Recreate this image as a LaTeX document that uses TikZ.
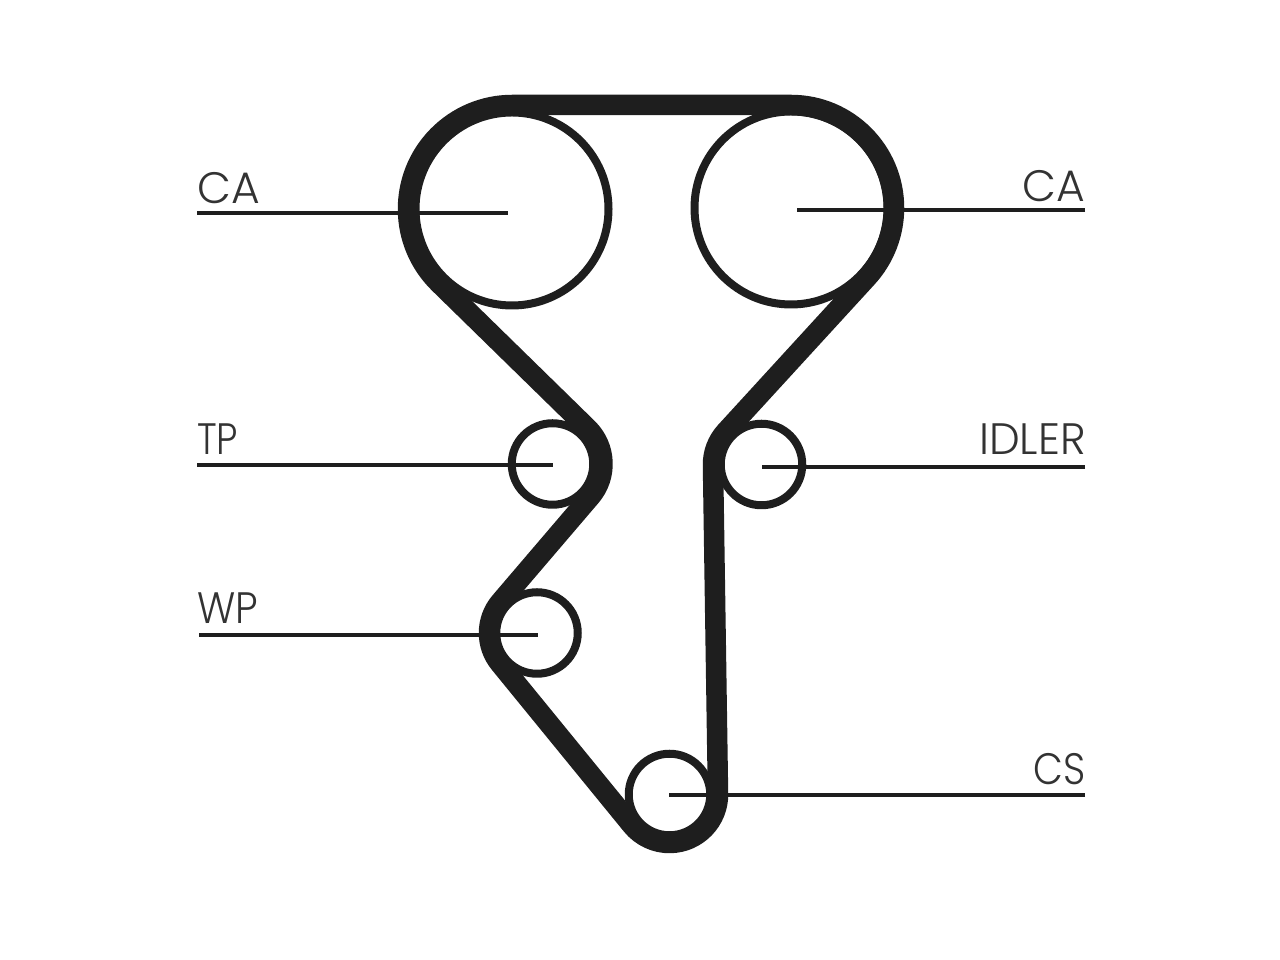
\documentclass[tikz,border=0pt]{standalone}
\usepackage{fontspec}
\setmainfont{Poppins}[UprightFont={* Light}]
\definecolor{beltcol}{HTML}{1E1E1E}
\definecolor{labcol}{HTML}{333333}
\tikzset{
  belt/.style={draw=beltcol,line width=20.5pt,line join=round},
  pulley/.style={circle,draw=beltcol,line width=8pt,fill=white,inner sep=0pt,outer sep=0pt},
  leader/.style={draw=beltcol,line width=4pt},
  lab/.style={font=\fontsize{44}{44}\selectfont,text=labcol,inner sep=0pt,transform shape}
}
\begin{document}
\begin{tikzpicture}[x=1pt,y=1pt]
\useasboundingbox (0,0) rectangle (1280,960);
\node[pulley,minimum size=193pt] (caL) at (512,751) {};
\node[pulley,minimum size=193pt] (caR) at (791,752) {};
\node[pulley,minimum size=81.5pt] (tp) at (552.5,496) {};
\node[pulley,minimum size=81.5pt] (idler) at (761.5,495.5) {};
\node[pulley,minimum size=81.5pt] (wp) at (537,327) {};
\node[pulley,minimum size=81.5pt] (cs) at (669.5,165.5) {};
\draw[belt] (512,855) -- (791,855) arc[start angle=90,end angle=-42.49,radius=103]
 -- (725.74,528.26) arc[start angle=137.51,end angle=180.87,radius=48.5]
 -- (717.99,166.24) arc[start angle=0.87,end angle=-140.63,radius=48.5]
 -- (499.9,296.55) arc[start angle=219.37,end angle=139.48,radius=48]
 -- (590.51,463.51) arc[start angle=-40.52,end angle=45.64,radius=50]
 -- (439.3,676.63) arc[start angle=225.64,end angle=90,radius=104] -- cycle;
\coordinate (eCaL) at (508,747);
\coordinate (eCaR) at (797,750);
\coordinate (eTp) at (553,495);
\coordinate (eId) at (762,493);
\coordinate (eWp) at (538,325);
\coordinate (eCs) at (669,164.5);
\coordinate (sCaL) at (197,747);
\coordinate (sCaR) at (1085,750);
\coordinate (sTp) at (197,495);
\coordinate (sId) at (1085,493);
\coordinate (sWp) at (199,325);
\coordinate (sCs) at (1085,164.5);
\draw[leader] (sCaL) -- (eCaL);
\draw[leader] (sCaR) -- (eCaR);
\draw[leader] (sTp) -- (eTp);
\draw[leader] (sId) -- (eId);
\draw[leader] (sWp) -- (eWp);
\draw[leader] (sCs) -- (eCs);
\node[lab,anchor=base west] (lCaL) at (197,756) {CA};
\node[lab,anchor=base east] (lCaR) at (1085,758) {CA};
\node[lab,anchor=base west,xscale=.86] (lTp) at (197,505) {TP};
\node[lab,anchor=base east,xscale=.99] (lId) at (1086,505) {IDLER};
\node[lab,anchor=base west,xscale=.91] (lWp) at (197,336) {WP};
\node[lab,anchor=base east,xscale=.88] (lCs) at (1086,175) {CS};
\end{tikzpicture}
\end{document}
